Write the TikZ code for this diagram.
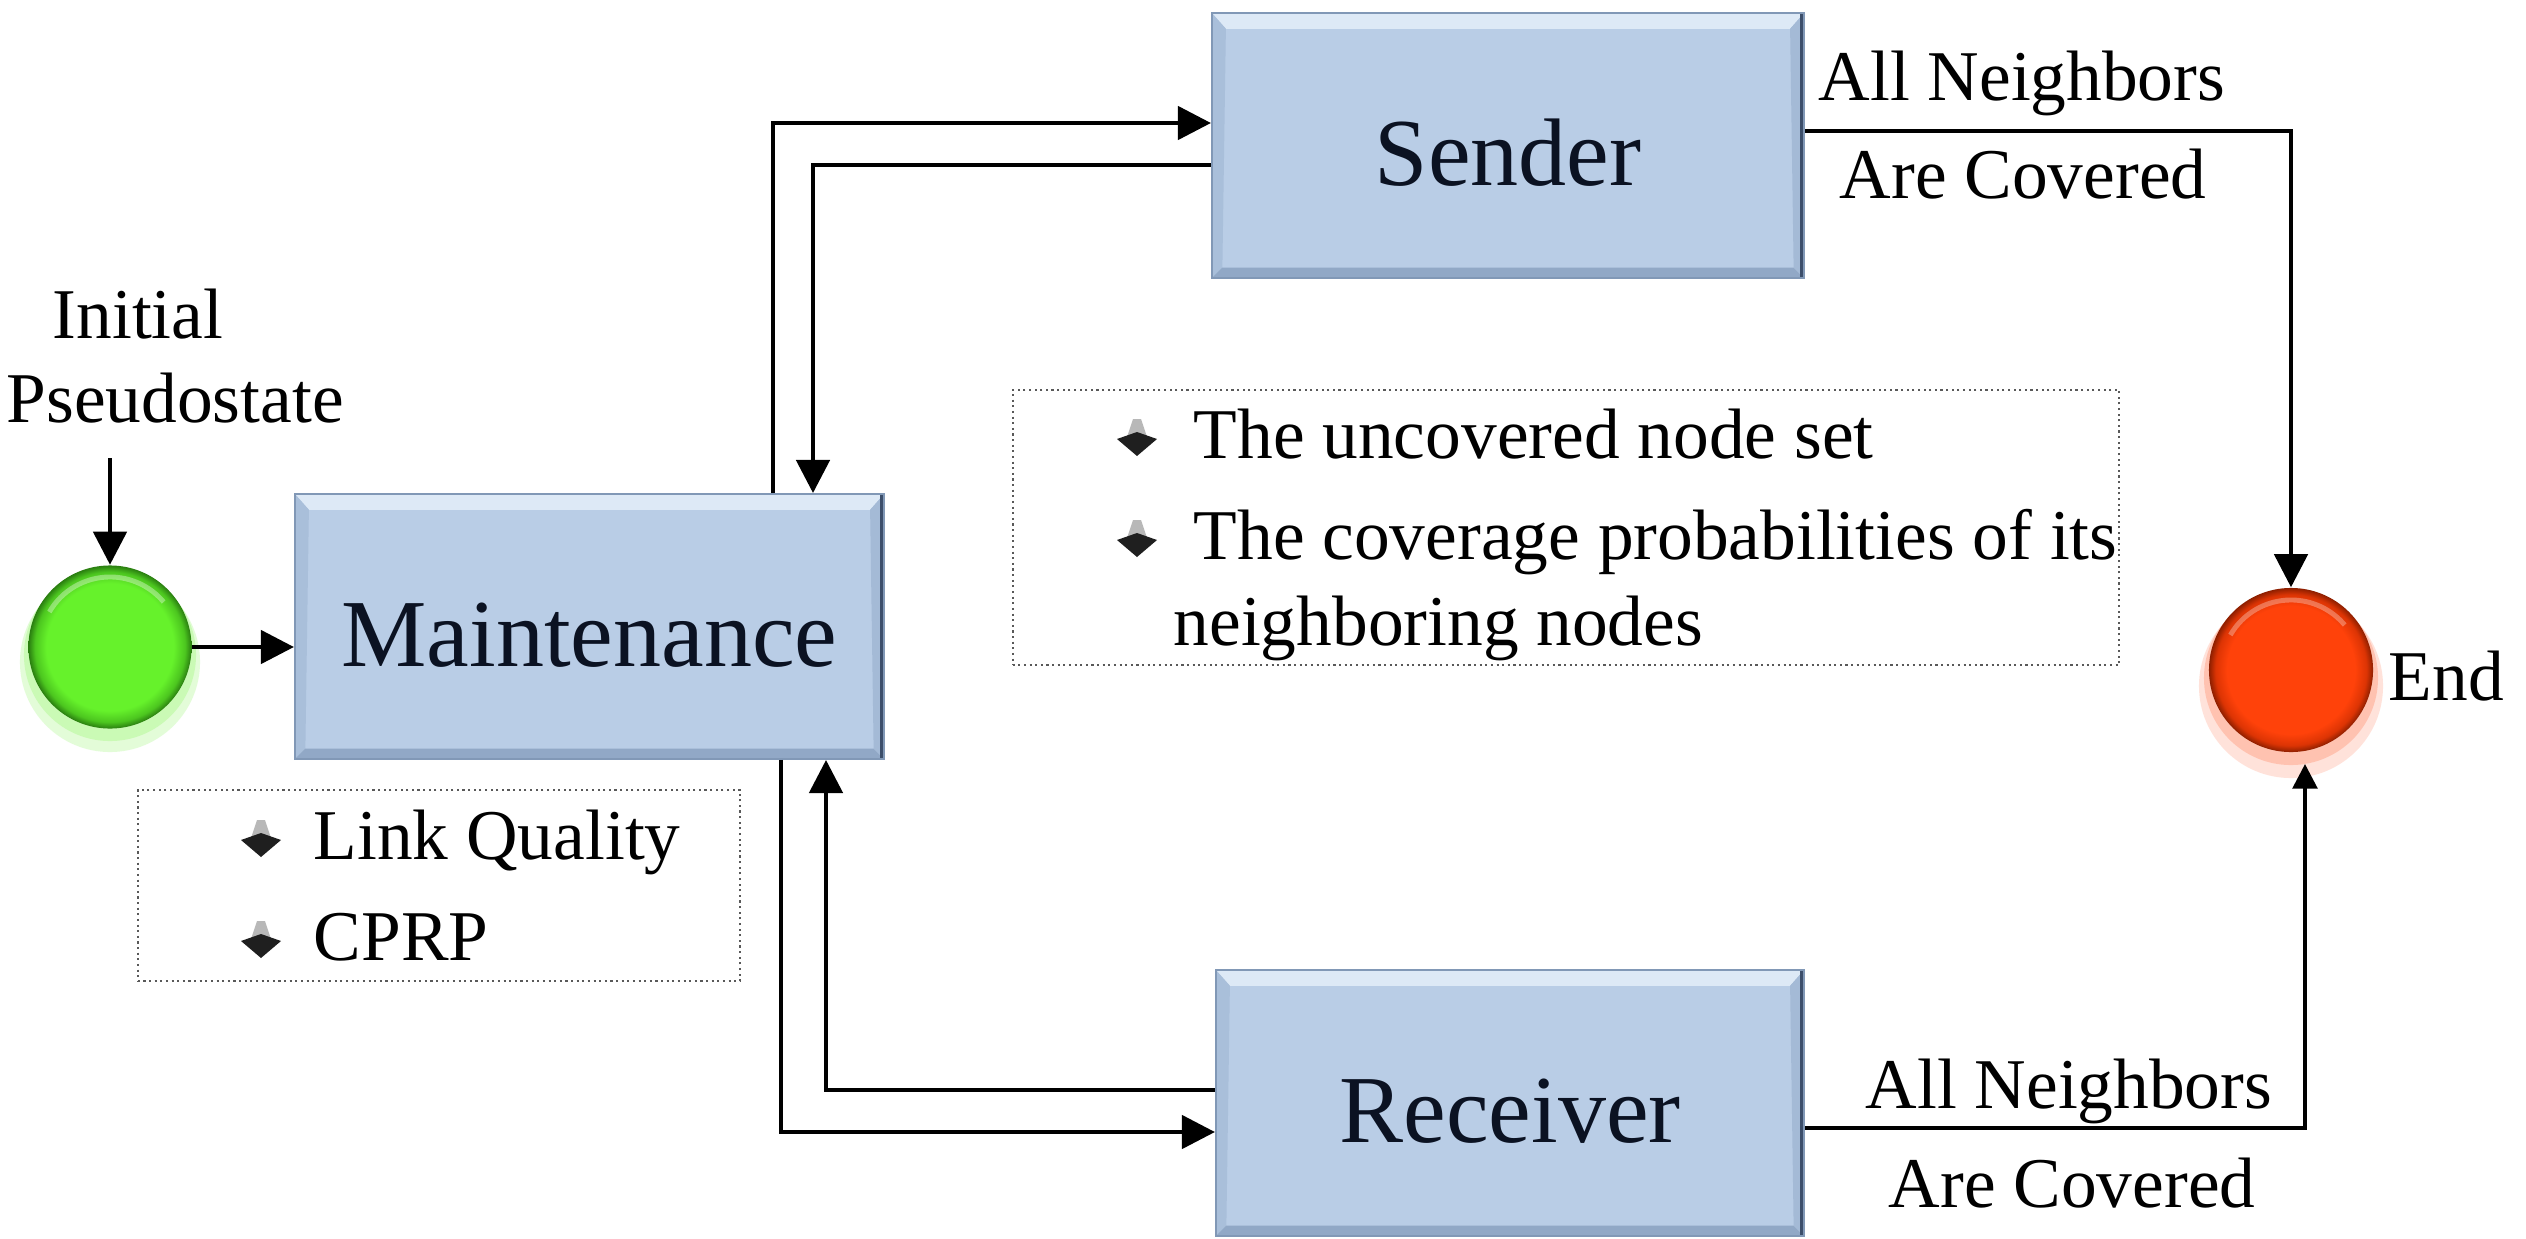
\documentclass[tikz,border=0pt]{standalone}
\usepackage{fontspec}
\setmainfont{Liberation Serif}
\usetikzlibrary{arrows.meta}
\definecolor{boxblue}{HTML}{B9CDE6}
\definecolor{boxhi}{HTML}{DDE9F6}
\definecolor{boxside}{HTML}{A9BFDA}
\definecolor{boxbot}{HTML}{91A8C6}
\definecolor{boxedge}{HTML}{8198B6}
\definecolor{boxdark}{HTML}{3C4E6A}
\definecolor{labelink}{HTML}{0B1222}
\definecolor{gin}{HTML}{66F22B}
\definecolor{gmid}{HTML}{4CC61F}
\definecolor{gdark}{HTML}{2A7E10}
\definecolor{rin}{HTML}{FF420A}
\definecolor{rmid}{HTML}{DC3404}
\definecolor{rdark}{HTML}{8E1F00}
\pgfdeclareradialshading{greenball}{\pgfpoint{0bp}{0bp}}{color(0bp)=(gin); color(19.5bp)=(gin); color(23bp)=(gmid); color(25bp)=(gdark); color(50bp)=(gdark)}
\pgfdeclareradialshading{redball}{\pgfpoint{0bp}{0bp}}{color(0bp)=(rin); color(19.5bp)=(rin); color(23bp)=(rmid); color(25bp)=(rdark); color(50bp)=(rdark)}
\tikzset{
  pbox/.style={rectangle, inner sep=0pt, fill=boxblue, draw=boxedge, line width=0.5pt,
    font=\fontsize{27.3}{30}\selectfont, text=labelink, text height=22.6pt, text depth=0pt,
    path picture={
      \fill[boxhi] (path picture bounding box.north west) -- (path picture bounding box.north east)
         -- ([xshift=-4pt,yshift=-4.5pt]path picture bounding box.north east)
         -- ([xshift=4pt,yshift=-4.5pt]path picture bounding box.north west) -- cycle;
      \fill[boxside] (path picture bounding box.north west) -- ([xshift=4pt,yshift=-4.5pt]path picture bounding box.north west)
         -- ([xshift=3pt,yshift=3pt]path picture bounding box.south west) -- (path picture bounding box.south west) -- cycle;
      \fill[boxbot] (path picture bounding box.south west) -- ([xshift=3pt,yshift=3pt]path picture bounding box.south west)
         -- ([xshift=-3pt,yshift=3pt]path picture bounding box.south east) -- (path picture bounding box.south east) -- cycle;
      \fill[boxside!80!boxbot] (path picture bounding box.north east) -- ([xshift=-4pt,yshift=-4.5pt]path picture bounding box.north east)
         -- ([xshift=-3pt,yshift=3pt]path picture bounding box.south east) -- (path picture bounding box.south east) -- cycle;
      \draw[boxdark, line width=2.4pt] (path picture bounding box.north east) -- (path picture bounding box.south east);
    }},
  ballg/.style={circle, inner sep=0pt, minimum size=1.63cm, shade, shading=greenball},
  ballr/.style={circle, inner sep=0pt, minimum size=1.64cm, shade, shading=redball},
  dotbox/.style={rectangle, inner sep=0pt, draw=black!65, densely dotted, line width=0.6pt},
  lbl/.style={inner sep=0pt, font=\fontsize{20.3}{24}\selectfont, text=black},
  arr/.style={line width=1.3pt, -{Triangle[length=9.4pt,width=9.4pt]}},
  arrs/.style={line width=1.1pt, -{Triangle[length=7pt,width=7pt]}},
  bul/.pic={
    \fill[black!28] (-4,-40) -- (4,-40) -- (10,-22) -- (-10,-22) -- cycle;
    \fill[black!88] (-20,-20) -- (0,-27) -- (20,-20) -- (0,-3) -- cycle;
  }
}
\begin{document}
\begin{tikzpicture}[x=0.01cm, y=-0.01cm]
\useasboundingbox[fill=white] (0,0) rectangle (2526,1239);

% glows
\fill[gin, opacity=0.18] (110,662) circle[radius=0.9cm];
\fill[gin, opacity=0.2] (110,655) circle[radius=0.86cm];
\fill[rin, opacity=0.15] (2291,686) circle[radius=0.92cm];
\fill[rin, opacity=0.2] (2291,678) circle[radius=0.87cm];

% main boxes
\node[pbox, minimum width=5.89cm, minimum height=2.65cm] (maint) at (589.5,626.5) {Maintenance};
\node[pbox, minimum width=5.92cm, minimum height=2.65cm] (sender) at (1508,145.5) {Sender};
\node[pbox, minimum width=5.88cm, minimum height=2.66cm] (recv) at (1510,1103) {Receiver};

% balls
\node[ballg] (start) at (110,647) {};
\node[ballr] (endn) at (2291,670) {};
\draw[white, opacity=0.35, line width=1.4pt] (start.center) ++(150:0.7cm) arc[start angle=150, end angle=40, radius=0.7cm];
\draw[white, opacity=0.3, line width=1.4pt] (endn.center) ++(150:0.7cm) arc[start angle=150, end angle=40, radius=0.7cm];

% note boxes
\node[dotbox, minimum width=6.02cm, minimum height=1.91cm] (lbox) at (439,885.5) {};
\node[dotbox, minimum width=11.06cm, minimum height=2.75cm] (cbox) at (1566,527.5) {};

% texts
\node[lbl, anchor=base west] (tinit) at (52,338) {Initial};
\node[lbl, anchor=base west] (tpseudo) at (6,422) {Pseudostate};
\node[lbl, anchor=base west] (tlq) at (313,859) {Link Quality};
\node[lbl, anchor=base west] (tcprp) at (313,960) {CPRP};
\node[lbl, anchor=base west] (tunc) at (1193,458) {The uncovered node set};
\node[lbl, anchor=base west] (tcov) at (1193,559) {The coverage probabilities of its};
\node[lbl, anchor=base west] (tnei) at (1173,645) {neighboring nodes};
\node[lbl, anchor=base west] (tan1) at (1818,100) {All Neighbors};
\node[lbl, anchor=base west] (tac1) at (1839,198) {Are Covered};
\node[lbl, anchor=base west] (tan2) at (1865,1108) {All Neighbors};
\node[lbl, anchor=base west] (tac2) at (1888,1207) {Are Covered};
\node[lbl, anchor=base west] (tend) at (2388,700) {End};

% bullets
\pic at (261,860) {bul};
\pic at (261,961) {bul};
\pic at (1137,459) {bul};
\pic at (1137,560) {bul};

% connectors
\coordinate (ia) at (110,458);
\draw[arr] (ia) -- (start.north);
\draw[arr] (start.east) -- (maint.west |- start.east);

\coordinate (xa) at (773,0);
\coordinate (xb) at (813,0);
\coordinate (ya) at (0,123);
\coordinate (yb) at (0,165);
\draw[arr] (maint.north -| xa) |- (sender.west |- ya);
\draw[arr] (sender.west |- yb) -| (maint.north -| xb);

\coordinate (xc) at (781,0);
\coordinate (xd) at (826,0);
\coordinate (yc) at (0,1132);
\coordinate (yd) at (0,1090);
\draw[arr] (maint.south -| xc) |- (recv.west |- yc);
\draw[arr] (recv.west |- yd) -| (maint.south -| xd);

\coordinate (ye) at (0,131);
\draw[arr] (sender.east |- ye) -| (endn.north);
\coordinate (yf) at (0,1128);
\coordinate (eb) at (2305,764);
\draw[arrs] (recv.east |- yf) -| (eb);
\end{tikzpicture}
\end{document}
